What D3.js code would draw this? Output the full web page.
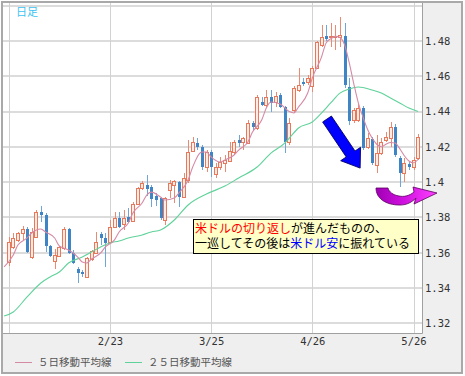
<!DOCTYPE html>
<html>
<head>
<meta charset="utf-8">
<script src="https://cdn.jsdelivr.net/npm/d3@7"></script>
<style>
  body { margin: 0; background: #fff; }
  svg text { font-family: "Noto Sans CJK JP", sans-serif; }
  .axis text { font-family: "DejaVu Sans Mono", monospace; font-size: 10.5px; fill: #333; }
</style>
</head>
<body>
<div id="chart"></div>
<script>
// daily candles [open, high, low, close], 2011-01-24 .. 2011-05-27 (weekdays)
const candles = [
  [1.3548,1.3689,1.3525,1.3661],[1.3633,1.3712,1.3621,1.3684],[1.3672,1.3718,1.3661,1.3712],
  [1.3712,1.3752,1.3672,1.3735],[1.3735,1.3746,1.3599,1.3604],[1.3576,1.3740,1.3565,1.3718],
  [1.3689,1.3842,1.3684,1.3831],[1.3831,1.3865,1.3774,1.3814],[1.3814,1.3825,1.3604,1.3638],
  [1.3638,1.3644,1.3576,1.3582],[1.3553,1.3621,1.3508,1.3587],[1.3582,1.3638,1.3576,1.3633],
  [1.3627,1.3746,1.3616,1.3735],[1.3735,1.3740,1.3594,1.3599],[1.3599,1.3616,1.3536,1.3542],
  [1.3508,1.3519,1.3429,1.3485],[1.3491,1.3502,1.3463,1.3480],[1.3463,1.3576,1.3457,1.3570],
  [1.3565,1.3616,1.3553,1.3610],[1.3599,1.3718,1.3593,1.3661],[1.3706,1.3718,1.3644,1.3684],
  [1.3684,1.3712,1.3519,1.3655],[1.3661,1.3786,1.3655,1.3746],[1.3746,1.3831,1.3740,1.3797],
  [1.3797,1.3831,1.3740,1.3746],[1.3763,1.3842,1.3729,1.3797],[1.3803,1.3854,1.3769,1.3774],
  [1.3780,1.3888,1.3774,1.3876],[1.3876,1.3973,1.3871,1.3967],[1.3967,1.4007,1.3956,1.3995],
  [1.3984,1.4041,1.3922,1.3961],[1.3973,1.3984,1.3859,1.3905],[1.3922,1.3939,1.3865,1.3899],
  [1.3910,1.3916,1.3786,1.3797],[1.3786,1.3916,1.3757,1.3910],[1.3956,1.4012,1.3910,1.3995],
  [1.3984,1.4012,1.3882,1.4007],[1.4001,1.4007,1.3859,1.3916],[1.3916,1.4052,1.3910,1.4024],
  [1.4012,1.4239,1.3995,1.4171],[1.4177,1.4256,1.4171,1.4228],[1.4222,1.4250,1.4182,1.4199],
  [1.4199,1.4211,1.4069,1.4086],[1.4086,1.4182,1.4058,1.4171],[1.4171,1.4182,1.4029,1.4086],
  [1.4046,1.4109,1.4024,1.4086],[1.4086,1.4143,1.4069,1.4114],[1.4109,1.4154,1.4058,1.4126],
  [1.4120,1.4228,1.4114,1.4177],[1.4171,1.4239,1.4160,1.4228],[1.4239,1.4267,1.4199,1.4222],
  [1.4228,1.4256,1.4182,1.4250],[1.4222,1.4352,1.4216,1.4335],[1.4335,1.4347,1.4296,1.4313],
  [1.4307,1.4494,1.4296,1.4483],[1.4454,1.4483,1.4432,1.4437],[1.4437,1.4522,1.4420,1.4483],
  [1.4483,1.4522,1.4398,1.4449],[1.4454,1.4511,1.4426,1.4488],[1.4494,1.4505,1.4420,1.4426],
  [1.4426,1.4432,1.4165,1.4228],[1.4228,1.4364,1.4211,1.4335],[1.4409,1.4545,1.4392,1.4534],
  [1.4522,1.4647,1.4511,1.4551],[1.4568,1.4590,1.4545,1.4556],[1.4568,1.4607,1.4551,1.4590],
  [1.4545,1.4658,1.4511,1.4647],[1.4647,1.4800,1.4641,1.4794],[1.4777,1.4891,1.4766,1.4823],
  [1.4828,1.4891,1.4800,1.4811],[1.4820,1.4902,1.4766,1.4826],[1.4820,1.4891,1.4749,1.4826],
  [1.4823,1.4936,1.4766,1.4834],[1.4828,1.4902,1.4534,1.4551],[1.4539,1.4590,1.4324,1.4347],
  [1.4352,1.4420,1.4335,1.4409],[1.4352,1.4443,1.4341,1.4420],[1.4420,1.4432,1.4182,1.4194],
  [1.4199,1.4279,1.4188,1.4250],[1.4245,1.4256,1.4097,1.4109],[1.4097,1.4267,1.4052,1.4165],
  [1.4165,1.4250,1.4154,1.4228],[1.4239,1.4284,1.4228,1.4256],[1.4250,1.4341,1.4199,1.4313],
  [1.4313,1.4330,1.4143,1.4154],[1.4137,1.4148,1.3973,1.4052],[1.4052,1.4137,1.4001,1.4109],
  [1.4103,1.4114,1.4069,1.4086],[1.4086,1.4143,1.4069,1.4126],[1.4137,1.4273,1.4126,1.4256]
];

// moving averages: [day index, value]
const ma5 = [
  [-1,1.3520],[1,1.3588],[2,1.3644],[4,1.3684],[5,1.3712],[7,1.3735],[8,1.3718],[10,1.3684],
  [11,1.3639],[13,1.3616],[14,1.3599],[15,1.3576],[16,1.3548],[17,1.3542],[18,1.3565],[20,1.3599],
  [21,1.3633],[23,1.3673],[24,1.3718],[26,1.3769],[27,1.3825],[29,1.3882],[30,1.3927],[31,1.3944],
  [33,1.3916],[34,1.3899],[36,1.3910],[37,1.3939],[39,1.4012],[40,1.4086],[42,1.4171],[43,1.4171],
  [44,1.4143],[46,1.4114],[47,1.4126],[49,1.4154],[50,1.4182],[52,1.4228],[53,1.4284],[55,1.4352],
  [56,1.4420],[57,1.4454],[59,1.4443],[61,1.4400],[62,1.4392],[63,1.4426],[65,1.4505],[66,1.4590],
  [68,1.4709],[69,1.4789],[70,1.4812],[71,1.4826],[72,1.4820],[73,1.4780],[74,1.4680],[75,1.4560],
  [76,1.4450],[77,1.4370],[78,1.4300],[79,1.4250],[80,1.4215],[81,1.4200],[82,1.4215],[83,1.4225],
  [84,1.4222],[85,1.4190],[86,1.4150],[87,1.4120],[88,1.4110],[89,1.4130]
];
const ma25 = [
  [-1,1.3242],[1,1.3265],[4,1.3350],[7,1.3429],[9,1.3463],[11,1.3491],[13,1.3542],[16,1.3576],
  [18,1.3605],[20,1.3633],[22,1.3656],[24,1.3667],[26,1.3684],[29,1.3701],[31,1.3718],[33,1.3729],
  [36,1.3786],[39,1.3871],[43,1.3933],[47,1.3978],[50,1.4024],[54,1.4086],[57,1.4165],[60,1.4222],
  [61,1.4250],[63,1.4307],[66,1.4341],[68,1.4392],[70,1.4449],[72,1.4505],[74,1.4528],[76,1.4539],
  [79,1.4522],[81,1.4505],[83,1.4477],[85,1.4449],[87,1.4420],[89,1.4400]
];

const gridValues = [1.32, 1.34, 1.36, 1.38, 1.40, 1.42, 1.44, 1.46, 1.48, 1.50];
const yTickValues = [1.32, 1.34, 1.36, 1.38, 1.40, 1.42, 1.44, 1.46, 1.48];
const gridDates = ["1/24", "2/23", "3/25", "4/26", "5/26"];
const labelDates = ["2/23", "3/25", "4/26", "5/26"];
const legendItems = [
  {name: "５日移動平均線", color: "#d58aa6"},
  {name: "２５日移動平均線", color: "#5fd29a"}
];
const noteLines = [
  [{t: "米ドルの切り返し", c: "#ff0000"}, {t: "が進んだものの、", c: "#000"}],
  [{t: "一巡してその後は", c: "#000"}, {t: "米ドル安", c: "#0000ff"}, {t: "に振れている", c: "#000"}]
];

const days = d3.timeDay.range(new Date(2011, 0, 24), new Date(2011, 4, 28))
  .filter(d => d.getDay() % 6 !== 0);
const dayLabels = days.map(d3.timeFormat("%-m/%-d"));

const W = 465, H = 376;
const plot = {left: 3, top: 3, right: 422, bottom: 333};

const x = d3.scaleLinear()
  .domain([0, candles.length - 1])
  .range([8.7, 418.1]);

const y = d3.scaleLinear()
  .domain([1.31456, 1.50153])
  .range([plot.bottom, plot.top]);

const svg = d3.select("#chart").append("svg")
  .attr("width", W)
  .attr("height", H);

// frame
svg.append("rect")
  .attr("x", 2).attr("y", 2)
  .attr("width", 460).attr("height", 371)
  .attr("fill", "#efefef")
  .attr("stroke", "#a9a9a9")
  .attr("stroke-width", 2);

svg.append("rect")
  .attr("x", plot.left).attr("y", plot.top)
  .attr("width", plot.right - plot.left)
  .attr("height", plot.bottom - plot.top)
  .attr("fill", "#fff");

const defs = svg.append("defs");
defs.append("clipPath").attr("id", "clip")
  .append("rect")
  .attr("x", plot.left).attr("y", plot.top)
  .attr("width", plot.right - plot.left)
  .attr("height", plot.bottom - plot.top);

const g = svg.append("g").attr("clip-path", "url(#clip)");

// grid
g.selectAll(".hgrid")
  .data(gridValues)
  .enter().append("line")
    .attr("x1", plot.left).attr("x2", plot.right)
    .attr("y1", d => Math.round(y(d)))
    .attr("y2", d => Math.round(y(d)))
    .attr("stroke", "#dcdcdc")
    .attr("stroke-width", 2);

g.selectAll(".vgrid")
  .data(gridDates)
  .enter().append("line")
    .attr("x1", d => Math.round(x(dayLabels.indexOf(d))) + 0.5)
    .attr("x2", d => Math.round(x(dayLabels.indexOf(d))) + 0.5)
    .attr("y1", plot.top).attr("y2", plot.bottom)
    .attr("stroke", "#d2d2d2");

// candles
const up = d => d[3] >= d[0];

const candle = g.selectAll(".candle")
  .data(candles)
  .enter().append("g")
    .attr("class", "candle")
    .attr("shape-rendering", "crispEdges");

candle.append("line")
  .attr("x1", (d, i) => Math.round(x(i)) + 0.5)
  .attr("x2", (d, i) => Math.round(x(i)) + 0.5)
  .attr("y1", d => Math.round(y(d[1])))
  .attr("y2", d => Math.round(y(d[2])))
  .attr("stroke", d => up(d) ? "#e98a72" : "#6ea6da");

candle.append("rect")
  .attr("x", (d, i) => up(d) ? Math.round(x(i)) - 1.5 : Math.round(x(i)) - 1)
  .attr("y", d => Math.round(y(Math.max(d[0], d[3]))) + (up(d) ? 0.5 : 0))
  .attr("width", 3)
  .attr("height", d => Math.max(1, Math.round(y(Math.min(d[0], d[3]))) - Math.round(y(Math.max(d[0], d[3])))))
  .attr("fill", d => up(d) ? "#fdebe4" : "#3f84c4")
  .attr("stroke", d => up(d) ? "#e6785c" : "none");

// moving averages
const line = d3.line()
  .x(d => x(d[0]))
  .y(d => y(d[1]))
  .curve(d3.curveMonotoneX);

g.append("path")
  .datum(ma25)
  .attr("fill", "none")
  .attr("stroke", legendItems[1].color)
  .attr("stroke-width", 1.1)
  .attr("d", line);

g.append("path")
  .datum(ma5)
  .attr("fill", "none")
  .attr("stroke", legendItems[0].color)
  .attr("stroke-width", 1.1)
  .attr("d", line);

// plot border right / bottom
svg.append("path")
  .attr("d", `M${plot.right + 0.5},${plot.top}V${plot.bottom + 0.5}H${plot.left}`)
  .attr("fill", "none")
  .attr("stroke", "#a0a0a0");

// axes
svg.append("g")
  .attr("class", "axis")
  .attr("transform", `translate(${plot.right + 2},0)`)
  .call(d3.axisRight(y).tickValues(yTickValues).tickSize(0).tickPadding(1)
    .tickFormat(d => String(+d.toFixed(2))))
  .call(a => a.select(".domain").remove());

svg.append("g")
  .attr("class", "axis")
  .attr("transform", `translate(0,${plot.bottom + 1})`)
  .call(d3.axisBottom(x).tickValues(labelDates.map(d => dayLabels.indexOf(d)))
    .tickSize(0).tickPadding(4).tickFormat(i => dayLabels[i]))
  .call(a => a.select(".domain").remove());

// title
svg.append("text")
  .attr("x", 16).attr("y", 16)
  .attr("font-size", 11)
  .attr("fill", "#3cc2f2")
  .text("日足");

// legend
const legend = svg.selectAll(".legend")
  .data(legendItems)
  .enter().append("g")
    .attr("class", "legend")
    .attr("transform", (d, i) => "translate(" + (15 + i * 110) + ",362)");

legend.append("line")
  .attr("x1", 0).attr("x2", 17)
  .attr("y1", 0.5).attr("y2", 0.5)
  .attr("stroke", d => d.color);

legend.append("text")
  .attr("x", 23).attr("y", 4)
  .attr("font-size", 10.5)
  .attr("fill", "#555")
  .text(d => d.name);

// blue arrow
const tail = [x(69.2), y(1.4358)], tip = [x(76.4), y(1.4080)];
const ang = Math.atan2(tip[1] - tail[1], tip[0] - tail[0]);
const len = Math.hypot(tip[0] - tail[0], tip[1] - tail[1]);
const sw = 5.3, hw = 12, hl = 17;
svg.append("path")
  .attr("transform", `translate(${tail[0]},${tail[1]}) rotate(${ang * 180 / Math.PI})`)
  .attr("d", `M0,${-sw}L${len - hl},${-sw}L${len - hl},${-hw}L${len},0L${len - hl},${hw}L${len - hl},${sw}L0,${sw}Z`)
  .attr("fill", "#0000ff")
  .attr("stroke", "#000066")
  .attr("stroke-width", 0.8);

// magenta u-turn arrow
const grad = defs.append("linearGradient")
  .attr("id", "mag").attr("x1", "0").attr("x2", "1").attr("y1", "0").attr("y2", "0");
grad.append("stop").attr("offset", "0").attr("stop-color", "#a000b4");
grad.append("stop").attr("offset", "0.45").attr("stop-color", "#d010e0");
grad.append("stop").attr("offset", "1").attr("stop-color", "#ff40ff");

svg.append("path")
  .attr("transform", `translate(${x(79.85)},${y(1.3967)})`)
  .attr("d", "M0,0C0,10 9,17 24,17C31,17 36,14 40,10L38,16L61,5L37,-1L38,4C33,8 28,9 23,8C17,7 13,4 12,0Z")
  .attr("fill", "url(#mag)")
  .attr("stroke", "#5a0060")
  .attr("stroke-width", 0.8);

// note box
svg.append("rect")
  .attr("x", 193.5).attr("y", 219.5)
  .attr("width", 225).attr("height", 34)
  .attr("fill", "#ffffc8")
  .attr("stroke", "#000");

const note = svg.append("text")
  .attr("font-size", 12);

noteLines.forEach((parts, li) => {
  parts.forEach((p, k) => {
    const t = note.append("tspan").text(p.t).attr("fill", p.c);
    if (k === 0) t.attr("x", 195).attr("y", 232.5 + li * 15.5);
  });
});
</script>
</body>
</html>
